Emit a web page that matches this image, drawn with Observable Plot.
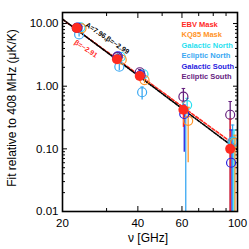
<!DOCTYPE html>
<html><head><meta charset="utf-8">
<script src="https://cdn.jsdelivr.net/npm/d3@7"></script>
<script src="https://cdn.jsdelivr.net/npm/@observablehq/plot@0.6"></script>
<style>
body{margin:0;background:#fff;}
</style>
</head><body><div id="chart"></div>
<script>
// ---- data ----
const freqs = [22.8, 33.0, 40.7, 60.8, 93.5];
const seriesNames = ["EBV Mask", "KQ85 Mask", "Galactic North", "Ecliptic North", "Galactic South", "Ecliptic South"];
const seriesColors = ["#ff2a1f", "#ff9428", "#29dff0", "#3aa8f2", "#2a22e0", "#66227f"];
const freqShift = [1.0, 1.045, 1.035, 1.022, 1.008, 1.0];

const ebvValues  = [8.5, 2.70, 1.45, 0.42, 0.100];
const ebvLow     = [7.9, 2.50, 1.30, 0.22, 0.0001];
const ebvHigh    = [9.1, 2.90, 1.60, 0.56, 0.30];

const kq85Values = [8.4, 2.65, 1.25, 0.28, 0.125];
const kq85Low    = [7.8, 2.45, 1.10, 0.06, 0.0001];
const kq85High   = [9.0, 2.85, 1.40, 0.46, 0.165];

const galNValues = [8.7, 2.95, 1.55, 0.50, 0.127];
const galNLow    = [8.1, 2.75, 1.40, 0.36, 0.0001];
const galNHigh   = [9.3, 3.15, 1.70, 0.64, 0.20];

const eclNValues = [6.7, 2.05, 0.80, 0.005, 0.13];
const eclNLow    = [6.1, 1.78, 0.60, 0.0001, 0.0001];
const eclNHigh   = [7.3, 2.35, 0.97, 0.46, 0.24];

const galSValues = [8.6, 3.00, 1.50, 0.36, 0.060];
const galSLow    = [8.0, 2.80, 1.35, 0.088, 0.0001];
const galSHigh   = [9.2, 3.20, 1.65, 0.50, 0.20];

const eclSValues = [8.5, 2.90, 1.67, 0.68, 0.35];
const eclSLow    = [7.9, 2.70, 1.50, 0.45, 0.0001];
const eclSHigh   = [9.1, 3.10, 1.85, 0.92, 0.57];

const fitA = 7.96, fitBetaBlack = -2.99, fitBetaRed = -2.91, fitRefFreq = 22.8;
const xDomain = [20, 100];
const yDomain = [0.01, 15];
const xTickLabels = [20, 40, 60, 100];
const xMinorTicks = [30, 50, 70, 80, 90];
const yTickLabels = [0.01, 0.1, 1, 10];
const yMinorTicks = [2,3,4,5,6,7,8,9].flatMap(m => [m*0.01, m*0.1, m]);
const annotations = [
  {text: "A=7.96,β=−2.99", freq: 30.2, value: 5.8, color: "#000"},
  {text: "β=−2.91", freq: 24.8, value: 3.95, color: "#ff2a1f"}
];

// ---- build table ----
const FONT = '"Liberation Sans", Arial, Helvetica, sans-serif';
const allValues = [ebvValues, kq85Values, galNValues, eclNValues, galSValues, eclSValues];
const allLow = [ebvLow, kq85Low, galNLow, eclNLow, galSLow, eclSLow];
const allHigh = [ebvHigh, kq85High, galNHigh, eclNHigh, galSHigh, eclSHigh];
const rows = [];
seriesNames.forEach((name, s) => {
  freqs.forEach((f, i) => rows.push({
    series: name, s, freq: f * freqShift[s],
    value: allValues[s][i], low: allLow[s][i], high: allHigh[s][i], color: seriesColors[s]
  }));
});
const ringOrder = [3, 2, 1, 4, 5];
const rings = ringOrder.flatMap(s => rows.filter(r => r.s === s));
const filled = rows.filter(r => r.s === 0);
const barRows = [3, 2, 1, 4, 5, 0].flatMap(s => rows.filter(r => r.s === s));

const fitLine = (beta) => xDomain.map(f => ({freq: f, value: fitA * Math.pow(f / fitRefFreq, beta)}));

const capSymbol = {draw(ctx, size) { const r = Math.sqrt(size / Math.PI); ctx.moveTo(-r, 0); ctx.lineTo(r, 0); }};

const legend = seriesNames.map((name, i) => Plot.text([name], {
  frameAnchor: "top-right", text: d => d, textAnchor: "start", fontFamily: FONT,
  dx: -56, dy: 9 + i * 10.5, fill: seriesColors[i], fontSize: 7.5, fontWeight: "bold"
}));

const chart = Plot.plot({
  width: 249, height: 249,
  marginLeft: 62, marginRight: 12, marginTop: 12, marginBottom: 38,
  style: {background: "#fff", color: "#000", fontFamily: FONT},
  x: {type: "log", domain: xDomain},
  y: {type: "log", domain: yDomain},
  marks: [
    // ticks inward on all four sides
    Plot.axisX(xTickLabels, {anchor: "bottom", tickSize: -5, text: null, strokeWidth: 1, label: null}),
    Plot.axisX(xMinorTicks, {anchor: "bottom", tickSize: -3, text: null, strokeWidth: 1, label: null}),
    Plot.axisX(xTickLabels, {anchor: "top", tickSize: -5, text: null, strokeWidth: 1, label: null}),
    Plot.axisX(xMinorTicks, {anchor: "top", tickSize: -3, text: null, strokeWidth: 1, label: null}),
    Plot.axisY(yTickLabels, {anchor: "left", tickSize: -5, text: null, strokeWidth: 1, label: null}),
    Plot.axisY(yMinorTicks, {anchor: "left", tickSize: -3, text: null, strokeWidth: 1, label: null}),
    Plot.axisY(yTickLabels, {anchor: "right", tickSize: -5, text: null, strokeWidth: 1, label: null}),
    Plot.axisY(yMinorTicks, {anchor: "right", tickSize: -3, text: null, strokeWidth: 1, label: null}),
    // tick labels
    Plot.text(xTickLabels, {x: d => d, frameAnchor: "bottom", text: d => String(d), dy: 12, textAnchor: "middle", lineAnchor: "middle", fontSize: 11.5, fontFamily: FONT}),
    Plot.text(yTickLabels, {y: d => d, frameAnchor: "left", text: d => d3.format(".2f")(d), dx: -4, textAnchor: "end", lineAnchor: "middle", fontSize: 11.5, fontFamily: FONT}),
    // axis titles
    Plot.text(["ν [GHz]"], {frameAnchor: "bottom", text: d => d, dy: 27, dx: -2, textAnchor: "middle", lineAnchor: "middle", fontSize: 12, fontFamily: FONT}),
    Plot.text(["Fit relative to 408 MHz (μK/K)"], {frameAnchor: "left", text: d => d, dx: -50, dy: -4, rotate: -90, textAnchor: "middle", lineAnchor: "middle", fontSize: 12, fontFamily: FONT}),
    // fit lines
    Plot.line(fitLine(fitBetaRed), {x: "freq", y: "value", stroke: "#ff2a1f", strokeWidth: 1.6, strokeDasharray: "3,2", clip: true}),
    Plot.line(fitLine(fitBetaBlack), {x: "freq", y: "value", stroke: "#000", strokeWidth: 1.6, strokeDasharray: "3,1.5,1,1.5", clip: true}),
    // error bars
    Plot.ruleX(barRows, {x: "freq", y1: "low", y2: "high", stroke: "color", strokeWidth: 1.3, clip: true}),
    Plot.dot(barRows, {x: "freq", y: "high", symbol: capSymbol, r: 1.8, stroke: "color", strokeWidth: 1, clip: true}),
    // markers
    Plot.dot(rings, {x: "freq", y: "value", r: 4.5, stroke: "color", strokeWidth: 1.2, fill: "none", clip: true}),
    Plot.dot(filled, {x: "freq", y: "value", r: 5, fill: "color", stroke: "none", clip: true}),
    // annotations
    Plot.text(annotations, {x: "freq", y: "value", text: "text", fill: "color", rotate: 34, fontSize: 7, fontWeight: "bold", fontFamily: FONT}),
    ...legend,
    Plot.frame({stroke: "#000", strokeWidth: 1.6})
  ]
});
document.getElementById("chart").appendChild(chart);
</script>
</body></html>
